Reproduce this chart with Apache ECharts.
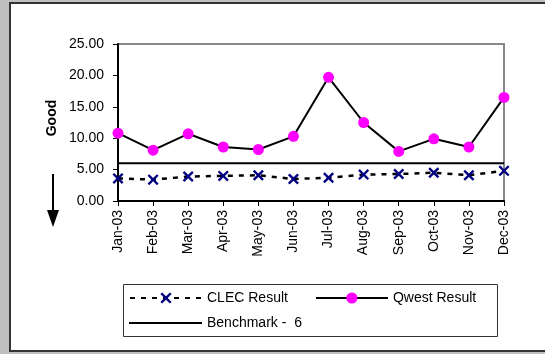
<!DOCTYPE html>
<html>
<head>
<meta charset="utf-8">
<script src="https://cdn.jsdelivr.net/npm/echarts@6/dist/echarts.min.js"></script>
<style>
html,body{margin:0;padding:0;background:#c0c0c0;}
#chart{width:545px;height:354px;}
</style>
</head>
<body>
<div id="chart"></div>
<script>
var months = ['Jan-03','Feb-03','Mar-03','Apr-03','May-03','Jun-03','Jul-03','Aug-03','Sep-03','Oct-03','Nov-03','Dec-03'];
var clecResult = [3.6, 3.4, 3.9, 4.0, 4.1, 3.5, 3.7, 4.2, 4.3, 4.5, 4.1, 4.8];
var qwestResult = [10.8, 8.1, 10.7, 8.6, 8.2, 10.3, 19.7, 12.5, 7.9, 9.9, 8.6, 16.5];
var benchmark = [6, 6, 6, 6, 6, 6, 6, 6, 6, 6, 6, 6];
var yTicks = [0, 5, 10, 15, 20, 25];

var FONT = 'Liberation Sans, Arial, sans-serif';
var xPath = 'path://M0,1.5L1.5,0L5,3.5L8.5,0L10,1.5L6.5,5L10,8.5L8.5,10L5,6.5L1.5,10L0,8.5L3.5,5Z';

var chart = echarts.init(document.getElementById('chart'), null, {renderer:'canvas'});
chart.setOption({
  backgroundColor: '#c0c0c0',
  animation: false,
  graphic: [
    {type:'rect', z:-10, shape:{x:10, y:3, width:545, height:348}, style:{fill:'#ffffff', stroke:'#333333', lineWidth:2}},
    {type:'rect', z:-5, shape:{x:123.5, y:284.5, width:374, height:52}, style:{fill:'#ffffff', stroke:'#333333', lineWidth:1}},
    {type:'text', x:52, y:118, rotation:Math.PI/2, style:{text:'Good', font:'bold 14px ' + FONT, fill:'#000', align:'center', verticalAlign:'middle'}},
    {type:'line', shape:{x1:53, y1:174, x2:53, y2:213}, style:{stroke:'#000', lineWidth:2}},
    {type:'polygon', shape:{points:[[47,210],[59,210],[53,227]]}, style:{fill:'#000'}}
  ],
  grid: {left:118, right:41, top:44, bottom:153, show:true, borderColor:'#888888', borderWidth:2, backgroundColor:'#ffffff'},
  xAxis: {
    type:'category', data: months, boundaryGap:false,
    axisLine:{lineStyle:{color:'#000', width:2}},
    axisTick:{show:true, length:5, lineStyle:{color:'#000'}, alignWithLabel:true},
    axisLabel:{rotate:90, margin:9, fontSize:14, fontFamily:FONT, color:'#000', interval:0},
    splitLine:{show:false}
  },
  yAxis: {
    type:'value', min:yTicks[0], max:yTicks[yTicks.length-1], interval:5,
    axisLine:{show:true, lineStyle:{color:'#000', width:2}},
    axisTick:{show:true, length:5, lineStyle:{color:'#000'}},
    axisLabel:{margin:14, fontSize:14, fontFamily:FONT, color:'#000', formatter:function(v){return v.toFixed(2);}},
    splitLine:{show:false}
  },
  legend: [
    {left:129, top:291, itemWidth:72, itemHeight:14, itemGap:27, padding:0,
     textStyle:{fontSize:14, fontFamily:FONT, color:'#000'},
     data:['CLEC Result','Qwest Result']},
    {left:129, top:316, itemWidth:73, itemHeight:2, padding:0, icon:'rect',
     itemStyle:{color:'#000'},
     textStyle:{fontSize:14, fontFamily:FONT, color:'#000'},
     data:['Benchmark -  6']}
  ],
  series: [
    {name:'Benchmark -  6', type:'line', data:benchmark, symbol:'none',
     lineStyle:{color:'#000', width:2}, itemStyle:{color:'#000'}, z:2},
    {name:'CLEC Result', type:'line', data:clecResult, symbol:xPath, symbolSize:11,
     lineStyle:{color:'#000', width:2.5, type:[5,6]}, itemStyle:{color:'#000080'}, z:3},
    {name:'Qwest Result', type:'line', data:qwestResult, symbol:'circle', symbolSize:11,
     lineStyle:{color:'#000', width:2}, itemStyle:{color:'#ff00ff'}, z:4}
  ]
});
</script>
</body>
</html>
